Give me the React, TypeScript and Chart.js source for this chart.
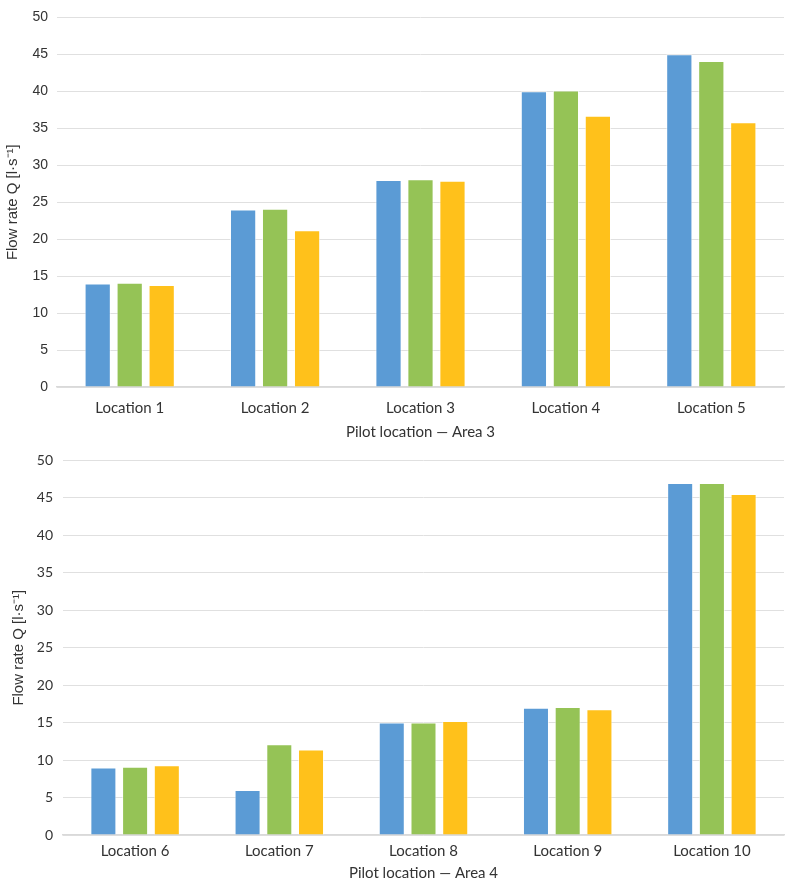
import React, { useEffect, useRef } from "react";
import { Chart, registerables } from "chart.js";

Chart.register(...registerables);

const categoriesA = ["Location 1", "Location 2", "Location 3", "Location 4", "Location 5"];
const blueA = [14, 24, 28, 40, 45];
const greenA = [14.1, 24.1, 28.1, 40.1, 44.1];
const yellowA = [13.8, 21.2, 27.9, 36.7, 35.8];

const categoriesB = ["Location 6", "Location 7", "Location 8", "Location 9", "Location 10"];
const blueB = [9, 6, 15, 17, 47];
const greenB = [9.1, 12.1, 15.0, 17.1, 47];
const yellowB = [9.3, 11.4, 15.2, 16.8, 45.5];

const yTitle = "Flow rate Q [l·s⁻¹]";
const xTitleA = "Pilot location — Area 3";
const xTitleB = "Pilot location — Area 4";

const COLORS = {
  blue: "#5B9BD5",
  green: "#95C356",
  yellow: "#FFC11B",
};

type Geo = {
  axisWidth: number;
  yFont: string;
  padTop: number;
  xHeight: number;
  xTickPad: number;
  xTitlePadBottom: number;
  yTitlePad: number;
  yTickPad: number;
};

function makeConfig(
  labels: string[],
  b: number[],
  g: number[],
  y: number[],
  xTitle: string,
  geo: Geo
): any {
  const ds = (data: number[], color: string) => ({
    data,
    backgroundColor: color,
    borderColor: "rgba(255,255,255,0.6)",
    borderWidth: 1,
    categoryPercentage: 0.66,
    barPercentage: 0.82,
  });
  return {
    type: "bar",
    data: {
      labels,
      datasets: [ds(b, COLORS.blue), ds(g, COLORS.green), ds(y, COLORS.yellow)],
    },
    options: {
      animation: false,
      responsive: false,
      maintainAspectRatio: false,
      layout: { padding: { top: geo.padTop, bottom: 0, left: 0, right: 16 } },
      plugins: { legend: { display: false }, tooltip: { enabled: false } },
      scales: {
        x: {
          grid: { display: false, drawTicks: false },
          border: { display: true, color: "#D9D9D9", width: 1.5 },
          ticks: {
            color: "#333333",
            font: { family: "Lato", size: 15 },
            padding: geo.xTickPad,
          },
          title: {
            display: true,
            text: xTitle,
            color: "#333333",
            font: { family: "Lato", size: 15 },
            padding: { top: 0, bottom: geo.xTitlePadBottom },
          },
          afterFit: (scale: any) => {
            scale.height = geo.xHeight;
          },
        },
        y: {
          min: 0,
          max: 50,
          ticks: {
            stepSize: 5,
            color: "#333333",
            font: { family: geo.yFont, size: 14 },
            padding: geo.yTickPad,
          },
          grid: { color: "#E0E0E0", drawTicks: false, lineWidth: 1 },
          border: { display: false },
          title: {
            display: true,
            text: yTitle,
            color: "#333333",
            font: { family: "Liberation Sans", size: 15 },
            padding: { top: geo.yTitlePad, bottom: 0 },
          },
          afterFit: (scale: any) => {
            scale.width = geo.axisWidth;
          },
        },
      },
    },
  };
}

function BarChart(props: { config: any; top: number; height: number }) {
  const ref = useRef<HTMLCanvasElement | null>(null);
  useEffect(() => {
    if (!ref.current) return;
    const chart = new Chart(ref.current, props.config);
    return () => chart.destroy();
  }, []);
  return (
    <canvas
      ref={ref}
      width={800}
      height={props.height}
      style={{ position: "absolute", left: 0, top: props.top, width: 800, height: props.height }}
    />
  );
}

export default function App() {
  useEffect(() => {
    document.body.style.margin = "0";
  }, []);
  const cfgA = makeConfig(categoriesA, blueA, greenA, yellowA, xTitleA, {
    axisWidth: 57,
    yFont: "Liberation Sans",
    padTop: 4,
    xHeight: 55,
    xTickPad: 12.5,
    xTitlePadBottom: 1,
    yTitlePad: 4,
    yTickPad: 9,
  });
  const cfgB = makeConfig(categoriesB, blueB, greenB, yellowB, xTitleB, {
    axisWidth: 63,
    yFont: "Lato",
    padTop: 6,
    xHeight: 49,
    xTickPad: 7.5,
    xTitlePadBottom: 2,
    yTitlePad: 10,
    yTickPad: 10,
  });
  return (
    <div style={{ position: "relative", width: 800, height: 884, background: "#fff" }}>
      <BarChart config={cfgA} top={0} height={442} />
      <BarChart config={cfgB} top={442} height={442} />
    </div>
  );
}
